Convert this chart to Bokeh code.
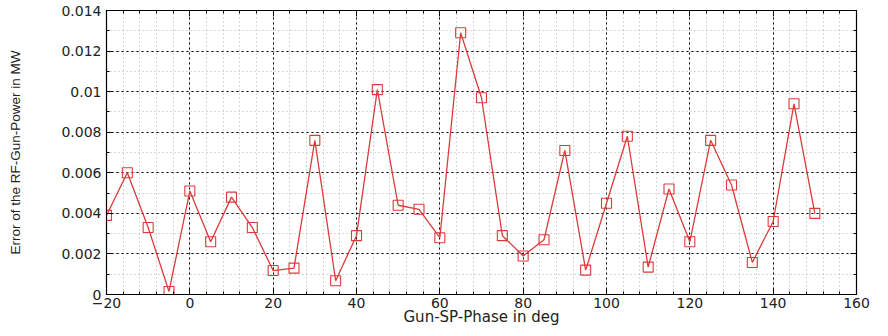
from bokeh.plotting import figure
from bokeh.models import (Range1d, SingleIntervalTicker, LinearAxis,
                          CustomJSTickFormatter, ColumnDataSource)
from bokeh.embed import file_html
from bokeh.resources import INLINE

# Data
phase_deg = [-20, -15, -10, -5, 0, 5, 10, 15, 20, 25, 30, 35, 40, 45, 50, 55,
             60, 65, 70, 75, 80, 85, 90, 95, 100, 105, 110, 115, 120, 125, 130,
             135, 140, 145, 150]
power_err_mw = [0.0039, 0.0060, 0.0033, 0.00015, 0.0051, 0.0026, 0.0048, 0.0033,
                0.00118, 0.0013, 0.0076, 0.00068, 0.0029, 0.0101, 0.0044, 0.0042,
                0.0028, 0.0129, 0.0097, 0.0029, 0.0019, 0.0027, 0.0071, 0.0012,
                0.0045, 0.0078, 0.00135, 0.0052, 0.0026, 0.0076, 0.0054, 0.00158,
                0.0036, 0.0094, 0.0040]

x_label = "Gun-SP-Phase in deg"
y_label = "Error of the RF-Gun-Power in MW"

src = ColumnDataSource(data=dict(x=phase_deg, y=power_err_mw))

p = figure(width=880, height=328, output_backend="svg", toolbar_location=None,
           x_range=Range1d(-20, 160), y_range=Range1d(0, 0.014),
           x_axis_label=x_label, y_axis_label=y_label)
p.min_border_left = 106
p.min_border_top = 10
p.min_border_right = 24
p.min_border_bottom = 10
p.background_fill_color = "white"
p.border_fill_color = "white"
p.outline_line_color = "black"
p.outline_line_width = 1.2

xt = SingleIntervalTicker(interval=20, num_minor_ticks=5)
yt = SingleIntervalTicker(interval=0.002, num_minor_ticks=2)
p.xaxis.ticker = xt
p.yaxis.ticker = yt
p.yaxis.formatter = CustomJSTickFormatter(code="return String(parseFloat(tick.toFixed(6)));")

for ax in (p.xaxis[0], p.yaxis[0]):
    ax.major_tick_in = 6
    ax.major_tick_out = 0
    ax.minor_tick_in = 3
    ax.minor_tick_out = 0
    ax.axis_line_color = "black"
    ax.major_label_text_font = "DejaVu Sans"
    ax.major_label_text_font_size = "14px"
    ax.major_label_text_color = "#222222"
    ax.axis_label_text_font_style = "normal"
    ax.axis_label_text_color = "#222222"

p.xaxis.major_label_standoff = 3
p.xaxis.axis_label_standoff = -3
p.xaxis.axis_label_text_font = "DejaVu Sans"
p.xaxis.axis_label_text_font_size = "15px"

p.yaxis.major_label_standoff = 5
p.yaxis.axis_label_standoff = 35
p.yaxis.axis_label_text_font = "Liberation Sans"
p.yaxis.axis_label_text_font_size = "13.5px"

# Box ticks on right and top (labels not drawn)
for loc, tk in (("right", yt), ("above", xt)):
    ax = LinearAxis(ticker=tk, major_label_text_font_size="1px",
                    major_label_text_color=None,
                    major_label_standoff=0, major_tick_in=6, major_tick_out=0,
                    minor_tick_in=3, minor_tick_out=0, axis_line_color="black")
    p.add_layout(ax, loc)

p.xgrid.ticker = xt
p.ygrid.ticker = yt
for g in (p.xgrid[0], p.ygrid[0]):
    g.grid_line_color = "black"
    g.grid_line_dash = "2 3"
    g.grid_line_alpha = 1.0
    g.grid_line_width = 1.0
    g.minor_grid_line_color = "#a8a8a8"
    g.minor_grid_line_dash = "1 3"
    g.minor_grid_line_alpha = 0.9

p.line("x", "y", source=src, line_color="#dd3b3b", line_width=1.3)
p.scatter("x", "y", source=src, marker="square", size=10, fill_color=None,
          line_color="#dd3b3b", line_width=1.1)

open("out.html", "w").write(file_html(p, INLINE))
